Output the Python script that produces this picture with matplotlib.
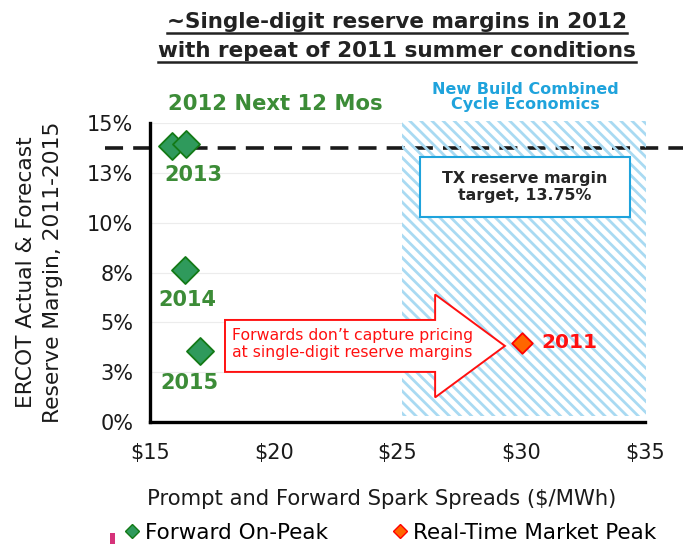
import matplotlib
matplotlib.use("Agg")
from matplotlib import pyplot as plt
from matplotlib.lines import Line2D
from matplotlib.patches import Rectangle, FancyArrow

# forward on-peak points (spark spread $/MWh, reserve margin %)
fwd_spread = [15.88, 16.44, 16.41, 17.02]
fwd_margin = [13.88, 13.96, 7.63, 3.58]
# real-time market peak, 2011
rt_spread = [30.02]
rt_margin = [3.98]

year_labels = ["2013", "2014", "2015", "2011"]
target_margin = 13.75

y_ticks = [0, 2.5, 5, 7.5, 10, 12.5, 15]
y_ticklabels = ["0%", "3%", "5%", "8%", "10%", "13%", "15%"]
x_ticks = [15, 20, 25, 30, 35]
x_ticklabels = ["$15", "$20", "$25", "$30", "$35"]

GREEN_TXT = "#3c8c37"
GREEN_FILL = "#2f9a5c"
GREEN_EDGE = "#137a16"
BLUE = "#1fa3dc"

plt.rcParams["font.family"] = "DejaVu Sans"

fig = plt.figure(figsize=(6.83, 5.44), dpi=100)
W, H = 683, 544
ax = fig.add_axes([150 / W, 1 - 422 / H, (645 - 150) / W, (422 - 123.3) / H])

ax.set_xlim(15, 35)
ax.set_ylim(0, 15)

for s in ["top", "right"]:
    ax.spines[s].set_visible(False)
for s in ["left", "bottom"]:
    ax.spines[s].set_linewidth(2.4)
    ax.spines[s].set_color("black")
    ax.spines[s].set_zorder(6)

ax.set_yticks(y_ticks)
ax.set_yticklabels(y_ticklabels)
ax.set_xticks(x_ticks)
ax.set_xticklabels(x_ticklabels)
ax.tick_params(axis="y", length=0, pad=12, labelsize=15, labelcolor="#1a1a1a")
ax.tick_params(axis="x", length=0, pad=15, labelsize=15, labelcolor="#1a1a1a")
ax.yaxis.grid(True, color="#ececec", lw=0.8, zorder=0)
ax.set_axisbelow(True)

ax.set_xlabel("Prompt and Forward Spark Spreads ($/MWh)", fontsize=15.2,
              color="#1a1a1a")
ax.xaxis.set_label_coords((382 - 150) / 495, -0.225)
ax.set_ylabel("ERCOT Actual & Forecast\nReserve Margin, 2011-2015", fontsize=15.7,
              labelpad=17, color="#1a1a1a", linespacing=1.45)

# new build combined cycle economics zone
ax.add_patch(Rectangle((25.2, 0.3), 9.85, 14.8, facecolor="white",
                       edgecolor="none", zorder=1, clip_on=False))
plt.rcParams["hatch.linewidth"] = 2.0
ax.add_patch(Rectangle((25.2, 0.3), 9.85, 14.8, facecolor="none",
                       edgecolor="#a9daf2", hatch="\\\\\\", lw=0,
                       zorder=3, clip_on=False))

# reserve margin target line
ax.plot([-0.09, 1.1], [target_margin, target_margin], color="#1a1a1a",
        lw=2.6, dashes=(5, 2.8), transform=ax.get_yaxis_transform(),
        clip_on=False, zorder=2)

ax.add_patch(Rectangle((25.91, 10.3), 8.48, 3.01, facecolor="white",
                       edgecolor=BLUE, lw=1.5, zorder=4))
ax.text(30.15, 11.8, "TX reserve margin\ntarget, 13.75%", ha="center",
        va="center", fontsize=11.4, fontweight="bold", color="#262626",
        zorder=5, linespacing=1.2)

# arrow callout
ax.add_patch(FancyArrow(18.03, 3.82, 11.31, 0, width=2.61, head_width=5.17,
                        head_length=2.82, length_includes_head=True,
                        facecolor="white", edgecolor="#ff1010", lw=1.4,
                        zorder=4))
ax.text(18.3, 3.92, "Forwards don\u2019t capture pricing\nat single-digit reserve margins",
        ha="left", va="center", fontsize=11.3, color="#ff1010", zorder=5,
        linespacing=1.15)

ax.scatter(fwd_spread, fwd_margin, marker="D", s=190, facecolor=GREEN_FILL,
           edgecolor=GREEN_EDGE, lw=1.3, zorder=7, clip_on=False)
ax.scatter(rt_spread, rt_margin, marker="D", s=110, facecolor="#ff6600",
           edgecolor="#ff0000", lw=1.3, zorder=7)

lab_pos = [(16.74, 12.41), (16.5, 6.13), (16.6, 1.96)]
for (x, y), lab in zip(lab_pos, year_labels[:3]):
    ax.text(x, y, lab, ha="center", va="center", fontsize=15,
            fontweight="bold", color=GREEN_TXT, zorder=8)
ax.text(30.8, 3.97, year_labels[3], ha="left", va="center", fontsize=14.5,
        fontweight="bold", color="#ff1010", zorder=8)

ax.text(20.05, 15.97, "2012 Next 12 Mos", ha="center", va="center",
        fontsize=15.2, fontweight="bold", color=GREEN_TXT, clip_on=False)
ax.text(30.15, 16.3, "New Build Combined\nCycle Economics", ha="center",
        va="center", fontsize=11.5, fontweight="bold", color=BLUE,
        linespacing=1.0, clip_on=False)

# title, underlined by hand
t1 = fig.text(397 / W, 1 - 22 / H, "~Single-digit reserve margins in 2012",
              ha="center", va="center", fontsize=15.5, fontweight="bold",
              color="#222222")
t2 = fig.text(397 / W, 1 - 51 / H, "with repeat of 2011 summer conditions",
              ha="center", va="center", fontsize=15.5, fontweight="bold",
              color="#222222")

legend_handles = [
    Line2D([], [], marker="D", ls="none", ms=7, mfc=GREEN_FILL, mec=GREEN_EDGE,
           mew=1, label="Forward On-Peak"),
    Line2D([], [], marker="D", ls="none", ms=7, mfc="#ff6600", mec="#ff0000",
           mew=1, label="Real-Time Market Peak"),
]
fig.legend(handles=legend_handles, loc="center", bbox_to_anchor=(390 / W, 1 - 533 / H),
           ncol=2, frameon=False, fontsize=15.5, handlelength=0.7,
           handletextpad=0.25, columnspacing=3.0, borderpad=0)

# stray clipped logo fragment at bottom left
fig.patches.append(Rectangle((110 / W, 0), 5 / W, 11 / H, facecolor="#d6327a",
                             edgecolor="none", transform=fig.transFigure))

fig.canvas.draw()
inv = fig.transFigure.inverted()
for t in (t1, t2):
    bb = t.get_window_extent()
    (x0, y0), (x1, _) = inv.transform([(bb.x0, bb.y0 - 0.5), (bb.x1, bb.y0)])
    fig.add_artist(Line2D([x0, x1], [y0, y0], color="#222222", lw=1.8,
                          transform=fig.transFigure))

fig.savefig("out.png", dpi=100)
